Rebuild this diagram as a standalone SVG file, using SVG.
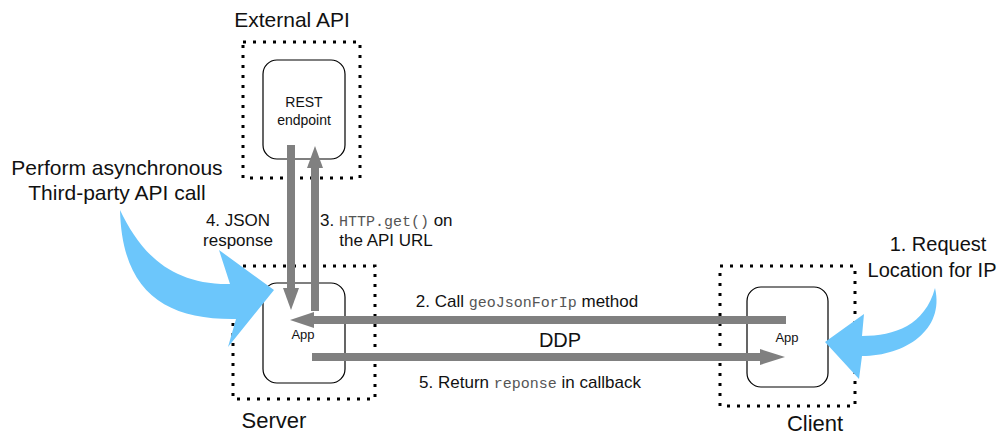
<svg xmlns="http://www.w3.org/2000/svg" width="1008" height="438" viewBox="0 0 1008 438">
<defs>
<style>
.t{font-family:"Liberation Sans",Arial,sans-serif;fill:#111}
.m{font-family:"Liberation Mono","Courier New",monospace;fill:#555}
.dot{fill:none;stroke:#000;stroke-width:3;stroke-dasharray:3 7}
.box{fill:#fff;stroke:#000;stroke-width:1.2}
.ar{stroke:#808080;stroke-width:8;fill:none}
.hd{fill:#808080}
.blue{fill:#6cc6fb}
</style>
</defs>
<rect width="1008" height="438" fill="#fff"/>
<g id="external">
<rect class="dot" x="243" y="42" width="117" height="136"/>
<text class="t" x="292" y="27" font-size="21" text-anchor="middle">External API</text>
<rect class="box" x="263" y="60" width="82" height="99" rx="14"/>
<text class="t" x="304" y="107" font-size="14" text-anchor="middle">REST</text>
<text class="t" x="304" y="125" font-size="14" text-anchor="middle">endpoint</text>
</g>
<g id="server">
<rect class="dot" x="233" y="266" width="142" height="133"/>
<text class="t" x="274" y="428" font-size="22" text-anchor="middle">Server</text>
<rect class="box" x="263" y="283" width="82" height="100" rx="14"/>
<text class="t" x="303" y="339" font-size="13" text-anchor="middle">App</text>
</g>
<g id="client">
<rect class="dot" x="720" y="266" width="135" height="140"/>
<text class="t" x="815" y="431" font-size="22" text-anchor="middle">Client</text>
<rect class="box" x="747" y="287" width="81" height="100" rx="14"/>
<text class="t" x="787" y="342" font-size="13" text-anchor="middle">App</text>
</g>
<g id="connectors">
<line class="ar" x1="291" y1="145" x2="291" y2="290"/>
<polygon class="hd" points="283,288 299,288 291,310"/>
<line class="ar" x1="315" y1="311" x2="315" y2="166"/>
<polygon class="hd" points="307,168 323,168 315,146"/>
<line class="ar" x1="786" y1="320" x2="312" y2="320"/>
<polygon class="hd" points="314,312 314,328 290,320"/>
<line class="ar" x1="312" y1="357" x2="762" y2="357"/>
<polygon class="hd" points="760,349 760,365 785,357"/>
</g>
<g id="labels">
<text class="t" x="117" y="175" font-size="21" text-anchor="middle">Perform asynchronous</text>
<text class="t" x="117" y="200" font-size="21" text-anchor="middle">Third-party API call</text>
<text class="t" x="238" y="226" font-size="17" text-anchor="middle">4. JSON</text>
<text class="t" x="238" y="246" font-size="17" text-anchor="middle">response</text>
<text x="320" y="226" font-size="17"><tspan class="t">3. </tspan><tspan class="m" font-size="15">HTTP.get()</tspan><tspan class="t"> on</tspan></text>
<text class="t" x="386" y="246" font-size="17" text-anchor="middle">the API URL</text>
<text x="527" y="307" font-size="17" text-anchor="middle"><tspan class="t">2. Call </tspan><tspan class="m" font-size="15">geoJsonForIp</tspan><tspan class="t"> method</tspan></text>
<text class="t" x="560" y="347" font-size="20" text-anchor="middle">DDP</text>
<text x="530" y="388" font-size="17" text-anchor="middle"><tspan class="t">5. Return </tspan><tspan class="m" font-size="15">reponse</tspan><tspan class="t"> in callback</tspan></text>
<text class="t" x="938" y="251" font-size="20" text-anchor="middle">1. Request</text>
<text class="t" x="932" y="277" font-size="20" text-anchor="middle">Location for IP</text>
</g>
<g id="blue-arrows">
<path class="blue" d="M120,210 C140,252 170,285 230,284 L219,250 L274,290 L228,347 L236,319 C165,320 122,292 120,210 Z"/>
<path class="blue" d="M935,288 C925,325 895,336 862,336 L864,314 L825,342 L859,379 L862,356 C905,356 945,330 935,288 Z"/>
</g>
</svg>
